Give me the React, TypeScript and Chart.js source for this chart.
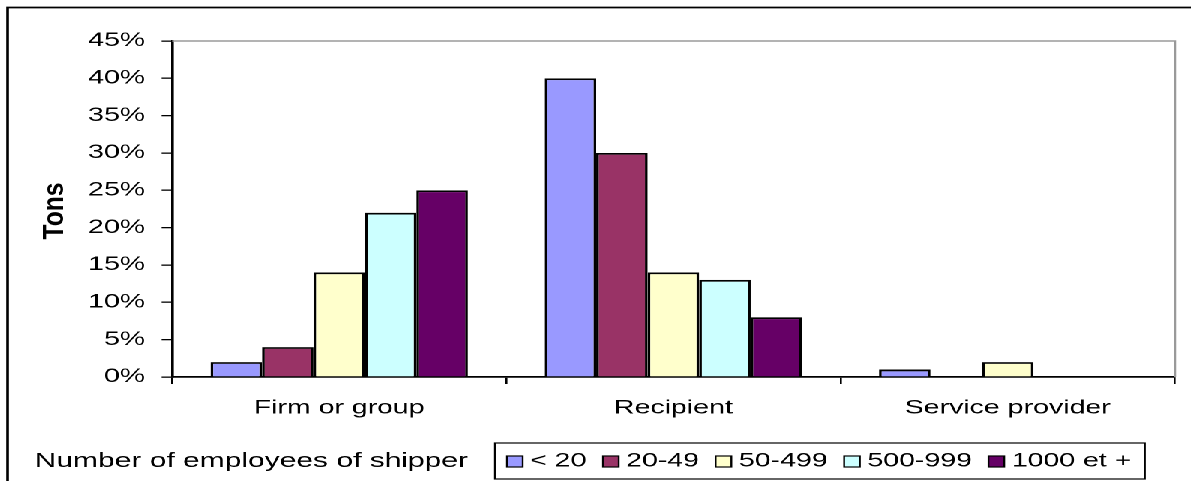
import React, { useEffect, useRef } from "react";
import { Chart, registerables } from "chart.js";

Chart.register(...registerables);

// Categories and series (share of tons, in %)
const categories = ["Firm or group", "Recipient", "Service provider"];
const seriesNames = ["< 20", "20-49", "50-499", "500-999", "1000 et +"];
const under20 = [2, 40, 1];
const from20to49 = [4, 30, 0];
const from50to499 = [14, 14, 2];
const from500to999 = [22, 13, 0];
const from1000 = [25, 8, 0];
const seriesValues = [under20, from20to49, from50to499, from500to999, from1000];
const seriesColors = ["#9999FF", "#993366", "#FFFFCC", "#CCFFFF", "#660066"];

const yMax = 45;
const yStep = 5;
const yTitle = "Tons";
const legendTitle = "Number of employees of shipper";

// The drawing is laid out on a narrower canvas and stretched horizontally
const SX = 1.5;
const W = 1191 / SX;
const H = 481;
const FONT = "'Liberation Sans', Arial, sans-serif";

const PLOT = { left: 172 / SX, right: 1175 / SX, top: 41, bottom: 377 };
const LEGEND_BOX = { left: 495 / SX, right: 1145 / SX, top: 443, bottom: 479 };

const decorations = {
  id: "decorations",
  afterDraw(chart: any) {
    const ctx: CanvasRenderingContext2D = chart.ctx;
    const area = chart.chartArea;
    ctx.save();

    // outer frame (runs off the right and bottom edges)
    ctx.strokeStyle = "#000";
    ctx.lineWidth = 1.8;
    ctx.beginPath();
    ctx.moveTo(W + 5, 7.5);
    ctx.lineTo(5, 7.5);
    ctx.lineTo(5, H + 5);
    ctx.stroke();

    // grey plot border on top and right
    ctx.strokeStyle = "#999999";
    ctx.lineWidth = 1.6;
    ctx.beginPath();
    ctx.moveTo(area.left, area.top);
    ctx.lineTo(area.right, area.top);
    ctx.lineTo(area.right, area.bottom);
    ctx.stroke();

    // y axis title
    ctx.fillStyle = "#000";
    ctx.font = `bold 19px ${FONT}`;
    ctx.textAlign = "center";
    ctx.textBaseline = "middle";
    ctx.save();
    ctx.translate(36.7, 211);
    ctx.rotate(-Math.PI / 2);
    const tw = ctx.measureText(yTitle).width;
    ctx.scale(57 / tw, 1);
    ctx.fillText(yTitle, 0, 0);
    ctx.restore();

    // legend caption
    ctx.font = `20px ${FONT}`;
    ctx.textAlign = "left";
    ctx.textBaseline = "middle";
    const midY = (LEGEND_BOX.top + LEGEND_BOX.bottom) / 2 + 0.5;
    ctx.fillText(legendTitle, 23, midY);

    // legend box
    ctx.strokeStyle = "#000";
    ctx.lineWidth = 1.2;
    ctx.strokeRect(
      LEGEND_BOX.left,
      LEGEND_BOX.top,
      LEGEND_BOX.right - LEGEND_BOX.left,
      LEGEND_BOX.bottom - LEGEND_BOX.top
    );

    ctx.font = `19px ${FONT}`;
    const datasets = chart.data.datasets;
    const sqW = 10.5;
    const sqH = 11;
    const sqGap = 5;
    const padL = 8;
    const padR = 9;
    const widths = datasets.map((d: any) => ctx.measureText(d.label).width);
    const natural = widths.reduce((a: number, b: number) => a + b, 0) + datasets.length * (sqW + sqGap);
    const avail = LEGEND_BOX.right - LEGEND_BOX.left - padL - padR;
    const itemGap = (avail - natural) / (datasets.length - 1);
    let x = LEGEND_BOX.left + padL;
    datasets.forEach((d: any, i: number) => {
      ctx.fillStyle = d.backgroundColor;
      ctx.fillRect(x, midY - sqH / 2, sqW, sqH);
      ctx.strokeStyle = "#000";
      ctx.lineWidth = 1.2;
      ctx.strokeRect(x, midY - sqH / 2, sqW, sqH);
      x += sqW + sqGap;
      ctx.fillStyle = "#000";
      ctx.fillText(d.label, x, midY);
      x += widths[i] + itemGap;
    });

    ctx.restore();
  },
};

export default function App() {
  const canvasRef = useRef<HTMLCanvasElement | null>(null);

  useEffect(() => {
    if (!canvasRef.current) return;
    const chart = new Chart(canvasRef.current, {
      type: "bar",
      data: {
        labels: categories,
        datasets: seriesNames.map((name, i) => ({
          label: name,
          data: seriesValues[i],
          backgroundColor: seriesColors[i],
          borderColor: "#000000",
          borderWidth: 1.8,
          borderSkipped: "bottom",
          barPercentage: 1,
          categoryPercentage: 0.77,
        })),
      },
      plugins: [decorations],
      options: {
        animation: false,
        responsive: false,
        devicePixelRatio: 2,
        layout: {
          padding: { left: 0, right: W - PLOT.right, top: PLOT.top, bottom: 0 },
        },
        plugins: {
          legend: { display: false },
          tooltip: { enabled: false },
          title: { display: false },
        },
        scales: {
          x: {
            offset: true,
            grid: {
              offset: true,
              drawOnChartArea: false,
              drawTicks: true,
              tickLength: 7,
              color: "#000",
              lineWidth: 1.3,
            },
            border: { display: true, color: "#000", width: 1.8 },
            ticks: {
              color: "#000",
              padding: 13,
              font: { family: FONT, size: 19 },
            },
            afterFit(scale: any) {
              scale.height = H - PLOT.bottom;
            },
          },
          y: {
            min: 0,
            max: yMax,
            grid: {
              drawOnChartArea: false,
              drawTicks: true,
              tickLength: 7,
              color: "#000",
              lineWidth: 1.3,
            },
            border: { display: true, color: "#000", width: 1.8 },
            ticks: {
              stepSize: yStep,
              color: "#000",
              padding: 11,
              font: { family: FONT, size: 19 },
              callback: (v: any) => `${v}%`,
            },
            afterFit(scale: any) {
              scale.width = PLOT.left;
            },
          },
        },
      },
    });
    return () => chart.destroy();
  }, []);

  return (
    <div
      style={{
        position: "absolute",
        left: 0,
        top: 0,
        width: W,
        height: H,
        transform: `scaleX(${SX})`,
        transformOrigin: "left top",
        background: "#fff",
      }}
    >
      <canvas ref={canvasRef} width={W} height={H} style={{ display: "block" }} />
    </div>
  );
}
